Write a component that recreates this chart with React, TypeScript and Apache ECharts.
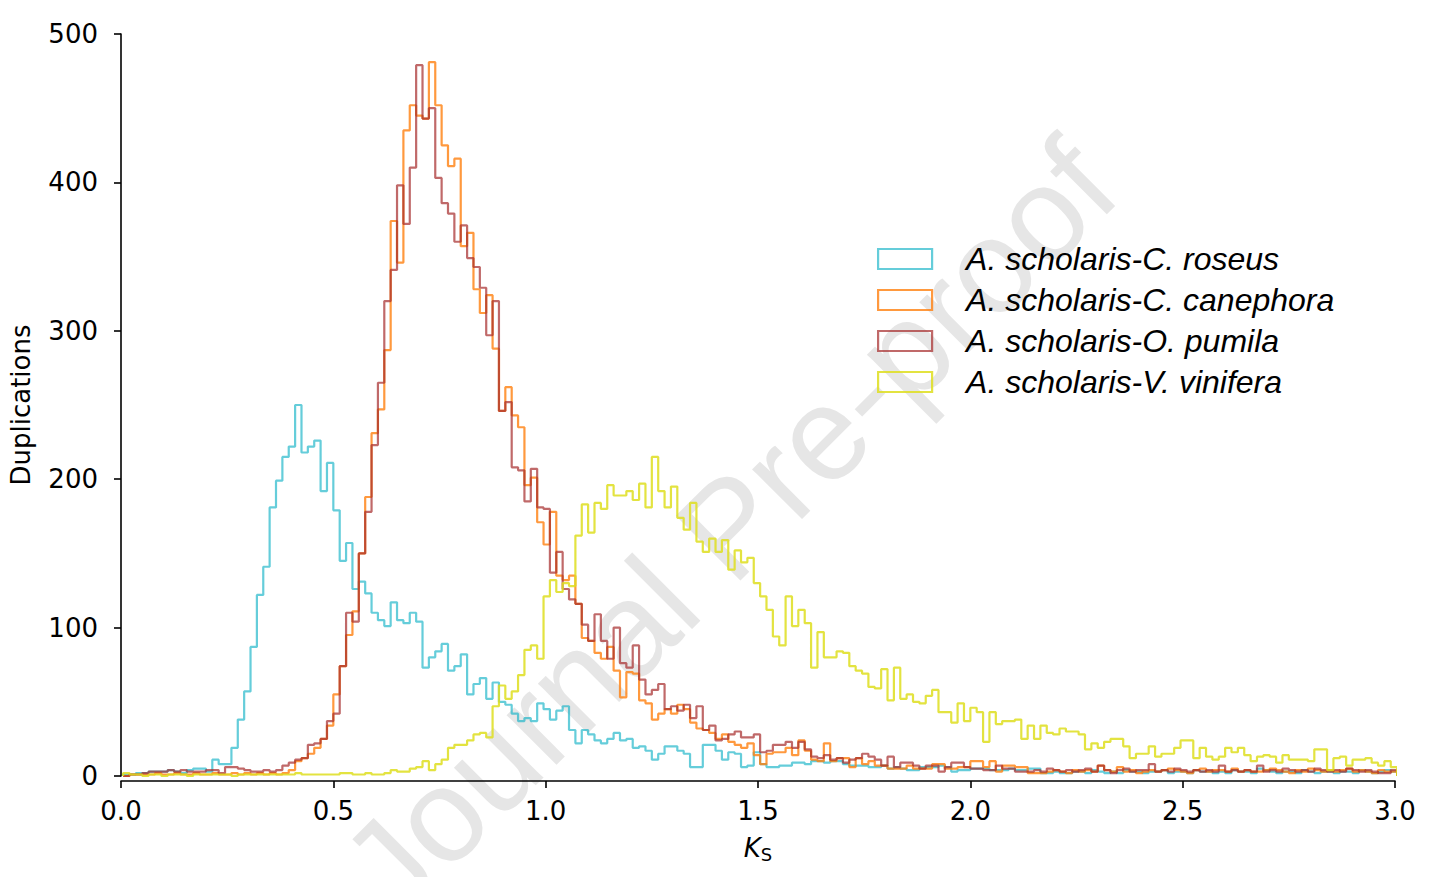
import React, { useEffect, useRef } from "react";
import * as echarts from "echarts";

// Histogram bins (Ks), shared by all four series
const BIN_START = 0.005;
const BIN_WIDTH = 0.015;

const SERIES_NAMES = [
  "A. scholaris-C. roseus",
  "A. scholaris-C. canephora",
  "A. scholaris-O. pumila",
  "A. scholaris-V. vinifera",
];

const COLORS = ["#12b2c6", "#ff7f0e", "#a52a2a", "#dede1e"];
const OPACITY = [0.65, 0.8, 0.7, 0.85];

const X_TICKS = [0, 0.5, 1, 1.5, 2, 2.5, 3];
const Y_TICKS = [0, 100, 200, 300, 400, 500];

// counts per bin
const roseus = [
  1, 1, 2, 2, 3, 3, 3, 4, 3, 2,
  4, 5, 5, 3, 11, 8, 8, 19, 38, 57,
  87, 122, 141, 181, 199, 215, 222, 250, 218, 222,
  226, 192, 211, 179, 145, 157, 126, 131, 123, 110,
  105, 101, 117, 105, 103, 110, 104, 73, 80, 84,
  89, 71, 74, 82, 55, 62, 66, 52, 63, 50,
  48, 42, 37, 39, 37, 49, 45, 38, 44, 47,
  31, 22, 31, 28, 24, 22, 25, 29, 24, 25,
  19, 20, 17, 11, 15, 20, 20, 17, 15, 6,
  6, 21, 21, 17, 11, 16, 15, 6, 7, 16,
  8, 6, 6, 7, 7, 9, 9, 8, 10, 10,
  9, 10, 10, 8, 7, 7, 7, 6, 6, 7,
  5, 6, 5, 4, 4, 6, 6, 6, 7, 6,
  3, 4, 4, 5, 5, 5, 4, 4, 4, 5,
  4, 4, 5, 5, 2, 2, 3, 2, 2, 3,
  3, 2, 4, 3, 2, 3, 2, 4, 3, 3,
  2, 3, 3, 4, 2, 3, 3, 2, 4, 3,
  3, 2, 3, 2, 4, 3, 3, 2, 5, 4,
  3, 2, 3, 3, 2, 4, 3, 2, 3, 3,
  2, 3, 3, 2, 4, 3, 2, 3, 4, 3,
];

const canephora = [
  0, 1, 1, 1, 1, 2, 1, 1, 2, 1,
  1, 2, 1, 1, 2, 1, 1, 2, 1, 2,
  1, 2, 1, 2, 1, 2, 4, 10, 12, 15,
  19, 25, 34, 55, 74, 95, 111, 150, 188, 231,
  247, 287, 374, 346, 435, 452, 445, 443, 481, 452,
  425, 411, 416, 357, 366, 328, 312, 324, 288, 246,
  262, 243, 235, 196, 201, 171, 156, 178, 135, 132,
  135, 116, 93, 91, 83, 79, 87, 71, 53, 70,
  69, 51, 49, 38, 42, 45, 42, 48, 45, 36,
  32, 31, 29, 25, 28, 23, 21, 19, 22, 14,
  8, 15, 16, 16, 19, 14, 24, 17, 11, 10,
  22, 10, 12, 12, 6, 12, 8, 10, 7, 7,
  5, 5, 5, 7, 5, 5, 5, 8, 8, 5,
  5, 6, 6, 10, 10, 6, 10, 3, 7, 7,
  6, 6, 2, 2, 2, 3, 4, 3, 2, 4,
  3, 4, 3, 7, 4, 3, 6, 3, 4, 2,
  3, 4, 3, 4, 5, 4, 3, 2, 4, 5,
  3, 4, 4, 3, 5, 3, 4, 3, 3, 4,
  5, 4, 3, 2, 4, 3, 5, 4, 3, 4,
  3, 4, 5, 3, 4, 3, 2, 4, 3, 3,
];

const pumila = [
  0, 1, 1, 2, 3, 3, 3, 4, 3, 4,
  3, 3, 3, 4, 4, 2, 6, 6, 5, 4,
  3, 3, 4, 3, 4, 7, 9, 11, 12, 21,
  22, 25, 37, 42, 74, 110, 104, 150, 178, 223,
  265, 320, 341, 398, 372, 410, 479, 443, 450, 403,
  386, 379, 360, 371, 349, 343, 329, 297, 320, 246,
  252, 208, 206, 185, 207, 181, 180, 137, 151, 126,
  119, 116, 102, 91, 109, 91, 79, 100, 76, 73,
  88, 65, 55, 58, 62, 45, 47, 44, 48, 39,
  47, 31, 34, 24, 25, 28, 30, 26, 26, 28,
  16, 17, 21, 21, 23, 19, 23, 18, 13, 12,
  14, 11, 12, 9, 11, 12, 15, 13, 11, 7,
  13, 6, 9, 9, 7, 5, 7, 7, 3, 6,
  9, 9, 6, 5, 5, 4, 4, 7, 5, 5,
  3, 3, 3, 4, 3, 5, 4, 3, 4, 3,
  4, 5, 3, 7, 4, 2, 4, 5, 3, 4,
  4, 8, 3, 4, 3, 5, 4, 3, 4, 3,
  4, 3, 7, 3, 4, 3, 4, 3, 7, 3,
  4, 3, 5, 4, 3, 4, 3, 5, 4, 3,
  4, 3, 5, 4, 3, 4, 3, 2, 2, 4,
];

const vinifera = [
  2, 1, 1, 0, 1, 1, 0, 1, 1, 1,
  0, 1, 1, 1, 1, 1, 1, 0, 1, 1,
  1, 1, 1, 1, 1, 1, 1, 2, 1, 1,
  1, 1, 1, 1, 2, 2, 1, 1, 2, 1,
  1, 2, 4, 3, 3, 5, 6, 10, 4, 8,
  11, 19, 21, 21, 24, 28, 29, 26, 47, 61,
  52, 57, 68, 85, 88, 79, 121, 132, 124, 130,
  128, 162, 183, 164, 184, 180, 196, 189, 189, 192,
  186, 197, 181, 215, 192, 181, 195, 174, 166, 184,
  158, 151, 160, 151, 159, 139, 152, 144, 147, 130,
  121, 112, 94, 88, 121, 101, 112, 103, 73, 97,
  80, 80, 84, 83, 74, 71, 69, 60, 59, 72,
  51, 73, 52, 55, 50, 49, 54, 58, 43, 43,
  36, 49, 37, 46, 43, 23, 43, 35, 37, 37,
  38, 25, 34, 25, 34, 29, 28, 32, 30, 30,
  28, 18, 22, 19, 23, 25, 25, 20, 12, 15,
  15, 20, 13, 15, 15, 19, 24, 24, 12, 19,
  13, 11, 13, 19, 16, 19, 14, 10, 13, 14,
  13, 9, 14, 11, 11, 11, 10, 18, 18, 4,
  12, 13, 7, 11, 11, 12, 9, 7, 10, 6,
];

const ALL_COUNTS = [roseus, canephora, pumila, vinifera];

// histtype="step" outline: left edges of each bin plus closing edge
function stepOutline(counts: number[]): number[][] {
  const pts: number[][] = [[BIN_START, 0]];
  counts.forEach((c, i) => pts.push([BIN_START + i * BIN_WIDTH, c]));
  const end = BIN_START + counts.length * BIN_WIDTH;
  pts.push([end, counts[counts.length - 1]]);
  pts.push([end, 0]);
  return pts;
}

export default function App() {
  const ref = useRef<HTMLDivElement>(null);

  useEffect(() => {
    if (!ref.current) return;
    const chart = echarts.init(ref.current, null, { renderer: "svg" });
    const tickFont = "DejaVu Sans";

    chart.setOption({
      animation: false,
      backgroundColor: "#ffffff",
      grid: { left: 121, right: 40, top: 34, bottom: 101, containLabel: false },
      xAxis: {
        type: "value",
        min: X_TICKS[0],
        max: X_TICKS[X_TICKS.length - 1],
        interval: 0.5,
        offset: 5,
        splitLine: { show: false },
        axisLine: { show: true, onZero: false, lineStyle: { color: "#000", width: 1.6 } },
        axisTick: { show: true, length: 7, lineStyle: { color: "#000", width: 1.6 } },
        axisLabel: {
          color: "#000",
          fontSize: 26,
          fontFamily: tickFont,
          margin: 17,
          formatter: (v: number) => v.toFixed(1),
        },
        name: "{k|K}{s|S}",
        nameLocation: "middle",
        nameGap: 52,
        nameTextStyle: {
          rich: {
            k: { fontSize: 26, fontStyle: "italic", fontFamily: tickFont, color: "#000", lineHeight: 30 },
            s: { fontSize: 18, fontFamily: tickFont, color: "#000", lineHeight: 30, padding: [12, 0, 0, 0] },
          },
        },
      },
      yAxis: {
        type: "value",
        min: Y_TICKS[0],
        max: Y_TICKS[Y_TICKS.length - 1],
        interval: 100,
        offset: 5,
        splitLine: { show: false },
        axisLine: { show: true, lineStyle: { color: "#000", width: 1.6 } },
        axisTick: { show: true, length: 7, lineStyle: { color: "#000", width: 1.6 } },
        axisLabel: { color: "#000", fontSize: 26, fontFamily: tickFont, margin: 18 },
        name: "Duplications",
        nameLocation: "middle",
        nameGap: 82,
        nameTextStyle: { color: "#000", fontSize: 26, fontFamily: tickFont },
      },
      legend: {
        orient: "vertical",
        left: 877,
        top: 243,
        padding: 0,
        itemWidth: 54,
        itemHeight: 20,
        itemGap: 9,
        selectedMode: false,
        icon: "rect",
        textStyle: {
          fontSize: 32,
          fontStyle: "italic",
          fontFamily: "Liberation Sans",
          color: "#000",
          lineHeight: 32,
          padding: [0, 0, 0, 29],
        },
        data: SERIES_NAMES.map((n, i) => ({
          name: n,
          icon: "rect",
          itemStyle: {
            color: "rgba(0,0,0,0)",
            borderColor: COLORS[i],
            borderWidth: 2.2,
            opacity: OPACITY[i],
          },
        })),
      },
      graphic: {
        elements: [
          {
            type: "text",
            x: 729,
            y: 527,
            rotation: Math.PI / 4,
            z: -10,
            silent: true,
            style: {
              text: "Journal Pre-proof",
              fill: "#e6e6e6",
              fontSize: 133,
              fontFamily: "Liberation Sans",
              align: "center",
              verticalAlign: "middle",
            },
          },
        ],
      },
      series: ALL_COUNTS.map((counts, i) => ({
        name: SERIES_NAMES[i],
        type: "line",
        step: "end",
        showSymbol: false,
        symbol: "none",
        clip: false,
        z: 3 + i,
        color: COLORS[i],
        lineStyle: { color: COLORS[i], width: 2.2, opacity: OPACITY[i] },
        data: stepOutline(counts),
      })),
    });

    return () => chart.dispose();
  }, []);

  return (
    <div
      ref={ref}
      style={{ position: "fixed", left: 0, top: 0, width: 1435, height: 877, background: "#fff" }}
    />
  );
}
